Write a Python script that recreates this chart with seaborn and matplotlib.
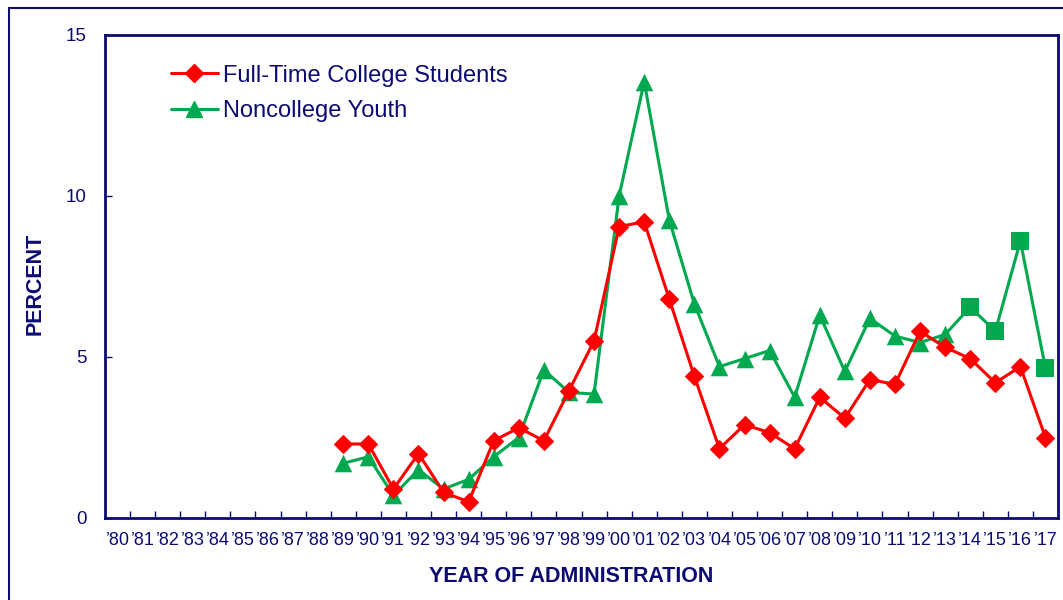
import matplotlib
matplotlib.use("Agg")
import matplotlib.pyplot as plt
import seaborn as sns
import pandas as pd
from matplotlib.lines import Line2D
from matplotlib.patches import Rectangle

# Datos
anios_eje = list(range(1980, 2018))
etiquetas_x = ["\u2019" + str(a)[2:] for a in anios_eje]
anios = list(range(1989, 2018))
universitarios = [2.3, 2.3, 0.9, 2.0, 0.8, 0.5, 2.4, 2.8, 2.4, 3.95, 5.5,
                  9.05, 9.2, 6.8, 4.4, 2.15, 2.9, 2.65, 2.15, 3.75, 3.1,
                  4.3, 4.15, 5.8, 5.3, 4.95, 4.2, 4.7, 2.5]
no_universitarios = [1.7, 1.9, 0.7, 1.5, 0.9, 1.2, 1.9, 2.5, 4.6, 3.9, 3.85,
                     10.0, 13.55, 9.25, 6.65, 4.7, 4.95, 5.2, 3.75, 6.3, 4.55,
                     6.2, 5.65, 5.45, 5.7, 6.55, 5.8, 8.6, 4.65]
anio_cambio = 2014  # a partir de aquí los marcadores son cuadrados

df = pd.DataFrame({"pos": [a - 1980 for a in anios],
                   "universitarios": universitarios,
                   "no_universitarios": no_universitarios,
                   "anio": anios})
df_tri = df[df["anio"] < anio_cambio]
df_cuad = df[df["anio"] >= anio_cambio]

azul = "#0B0B72"
rojo = "#FF0000"
verde = "#00A850"

sns.set_style("white")
plt.rcParams["font.family"] = ["Liberation Sans", "DejaVu Sans"]

fig = plt.figure(figsize=(10.63, 6), dpi=100)
ax = fig.add_axes([105 / 1063, 1 - 518 / 600, (1058 - 105) / 1063, (518 - 35) / 600])

# Marco exterior de la figura
fig.patches.append(Rectangle((9 / 1063, -0.05), 1.1, 1 - 8 / 600 + 0.05, transform=fig.transFigure,
                             fill=False, edgecolor=azul, linewidth=1.5))

# Serie verde: línea completa, triángulos y cuadrados
sns.lineplot(data=df, x="pos", y="no_universitarios", color=verde, linewidth=2.2, ax=ax)
sns.scatterplot(data=df_tri, x="pos", y="no_universitarios", color=verde, marker="^", s=160,
                edgecolor=verde, linewidth=0, ax=ax, zorder=3)
sns.scatterplot(data=df_cuad, x="pos", y="no_universitarios", color=verde, marker="s", s=160,
                edgecolor=verde, linewidth=0, ax=ax, zorder=3)

# Serie roja
sns.lineplot(data=df, x="pos", y="universitarios", color=rojo, linewidth=2.2, marker="D",
             markersize=9.5, markeredgecolor=rojo, ax=ax, zorder=4)

ax.set_xlim(-0.5, len(anios_eje) - 0.5)
ax.set_ylim(0, 15)
ax.set_xticks(range(len(anios_eje)))
ax.set_xticklabels(etiquetas_x, fontsize=13, color=azul)
ax.set_xticks([i + 0.5 for i in range(len(anios_eje) - 1)], minor=True)
ax.tick_params(axis="x", which="major", length=0, pad=10)
ax.tick_params(axis="x", which="minor", direction="in", length=5, color=azul, width=1, bottom=True)
ax.set_yticks([0, 5, 10, 15])
ax.tick_params(axis="y", which="major", direction="in", length=5, color=azul, width=1,
               labelsize=13.5, labelcolor=azul, pad=13, left=True)

for lado in ax.spines.values():
    lado.set_color(azul)
    lado.set_linewidth(2)

ax.set_xlabel("")
ax.set_ylabel("")
fig.text(571 / 1063, 1 - 577 / 600, "YEAR OF ADMINISTRATION", ha="center", va="center",
         fontsize=15.5, fontweight="bold", color=azul)
fig.text(35 / 1063, 1 - 284 / 600, "PERCENT", rotation=90, ha="center", va="center",
         fontsize=15.5, fontweight="bold", color=azul)

manejadores = [
    Line2D([0], [0], color=rojo, linewidth=2.2, marker="D", markersize=9),
    Line2D([0], [0], color=verde, linewidth=2.2, marker="^", markersize=11),
]
ax.legend(manejadores, ["Full-Time College Students", "Noncollege Youth"],
          loc="upper left", bbox_to_anchor=(0.059, 0.958), frameon=False, fontsize=17,
          labelcolor=azul, handlelength=2.0, handletextpad=0.22, labelspacing=0.56, borderaxespad=0)

fig.savefig("out.png", dpi=100)
